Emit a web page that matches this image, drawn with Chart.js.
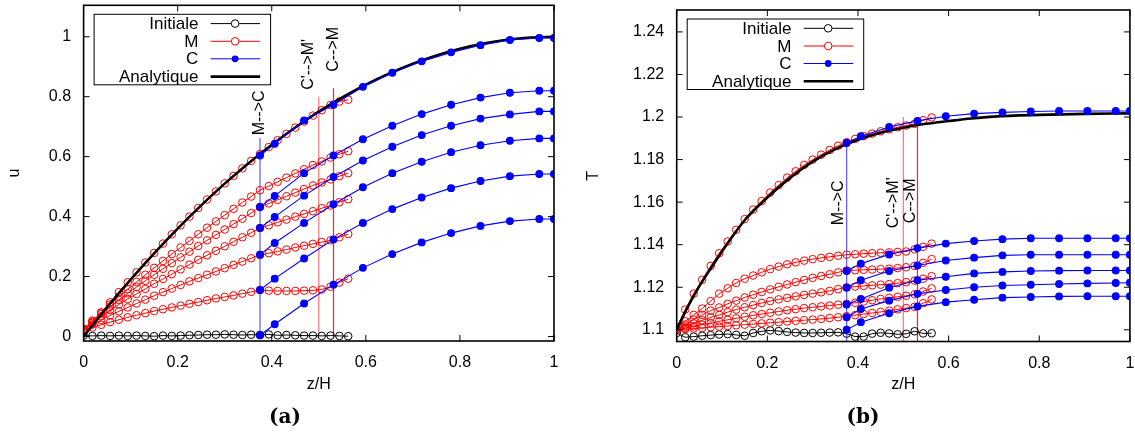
<!DOCTYPE html>
<html>
<head>
<meta charset="utf-8">
<script src="https://cdn.jsdelivr.net/npm/chart.js@4.4.0/dist/chart.umd.min.js"></script>
<style>
  body { margin: 0; background: #fff; }
  #wrap { position: relative; width: 1135px; height: 435px; }
  canvas { position: absolute; top: 0; }
  #cu { left: 0; }
  #ct { left: 567px; }
</style>
</head>
<body>
<div id="wrap">
  <canvas id="cu" width="567" height="435"></canvas>
  <canvas id="ct" width="568" height="435"></canvas>
</div>
<script>
// grids (z/H)
const zM = [0, 0.01875, 0.0375, 0.05625, 0.075, 0.09375, 0.1125, 0.13125, 0.15, 0.16875, 0.1875,
            0.20625, 0.225, 0.24375, 0.2625, 0.28125, 0.3, 0.31875, 0.3375, 0.35625, 0.375,
            0.39375, 0.4125, 0.43125, 0.45, 0.46875, 0.4875, 0.50625, 0.525, 0.54375, 0.5625];
const zC = [0.375, 0.40625, 0.46875, 0.53125, 0.59375, 0.65625, 0.71875, 0.78125, 0.84375, 0.90625, 0.96875, 1];
const zAnaU = [0, 0.05, 0.1, 0.15, 0.2, 0.25, 0.3, 0.35, 0.4, 0.45, 0.5, 0.55, 0.6, 0.65, 0.7, 0.75, 0.8, 0.85, 0.9, 0.95, 1];
const zAnaT = [0, 0.025, 0.05, 0.075, 0.1, 0.15, 0.2, 0.25, 0.3, 0.35, 0.4, 0.45, 0.5, 0.55, 0.6, 0.65, 0.7, 0.8, 0.9, 1];

// panel (a) : u
const uInit = [0.003, 0.002, 0.003, 0.002, 0.003, 0.002, 0.003, 0.002, 0.001, 0.003, 0.002, 0.003, 0.004, 0.005, 0.006, 0.006,
               0.007, 0.006, 0.005, 0.006, 0.005, 0.007, 0.004, 0.005, 0.004, 0.003, 0.003, 0.002, 0.003, 0.002, 0.001];
const uM1 = [0.02, 0.03, 0.039, 0.048, 0.056, 0.064, 0.071, 0.078, 0.085, 0.091, 0.097, 0.103, 0.109, 0.115, 0.121, 0.127,
             0.132, 0.137, 0.143, 0.149, 0.155, 0.153, 0.152, 0.152, 0.152, 0.153, 0.154, 0.157, 0.166, 0.18, 0.193];
const uM2 = [0.025, 0.04, 0.055, 0.07, 0.084, 0.097, 0.11, 0.123, 0.136, 0.148, 0.16, 0.172, 0.184, 0.195, 0.206, 0.217,
             0.228, 0.239, 0.25, 0.261, 0.272, 0.278, 0.284, 0.29, 0.297, 0.303, 0.309, 0.315, 0.321, 0.331, 0.342];
const uM3 = [0.025, 0.047, 0.068, 0.088, 0.107, 0.125, 0.142, 0.159, 0.176, 0.192, 0.208, 0.224, 0.24, 0.256, 0.271, 0.286,
             0.301, 0.316, 0.331, 0.346, 0.362, 0.371, 0.381, 0.39, 0.4, 0.409, 0.418, 0.428, 0.437, 0.448, 0.458];
const uM4 = [0.025, 0.05, 0.075, 0.099, 0.122, 0.144, 0.165, 0.186, 0.206, 0.226, 0.245, 0.264, 0.283, 0.302, 0.321, 0.339,
             0.357, 0.375, 0.393, 0.412, 0.432, 0.444, 0.456, 0.468, 0.48, 0.492, 0.504, 0.514, 0.524, 0.535, 0.545];
const uM5 = [0.025, 0.053, 0.08, 0.107, 0.133, 0.158, 0.182, 0.206, 0.229, 0.252, 0.275, 0.297, 0.319, 0.341, 0.363, 0.384,
             0.405, 0.426, 0.447, 0.467, 0.488, 0.502, 0.516, 0.53, 0.544, 0.558, 0.572, 0.584, 0.597, 0.608, 0.618];
const uM6 = [0.02, 0.045, 0.08, 0.114, 0.148, 0.181, 0.214, 0.247, 0.279, 0.31, 0.341, 0.371, 0.4, 0.429, 0.457, 0.484,
             0.511, 0.536, 0.561, 0.586, 0.609, 0.632, 0.655, 0.676, 0.697, 0.717, 0.737, 0.755, 0.772, 0.784, 0.79];
const uC1 = [0.004, 0.041, 0.11, 0.173, 0.229, 0.275, 0.314, 0.345, 0.369, 0.385, 0.392, 0.392];
const uC2 = [0.155, 0.193, 0.26, 0.324, 0.379, 0.425, 0.464, 0.495, 0.519, 0.535, 0.542, 0.542];
const uC3 = [0.273, 0.312, 0.379, 0.441, 0.498, 0.545, 0.583, 0.615, 0.638, 0.653, 0.661, 0.661];
const uC4 = [0.362, 0.399, 0.47, 0.532, 0.587, 0.633, 0.672, 0.703, 0.727, 0.741, 0.751, 0.751];
const uC5 = [0.432, 0.469, 0.545, 0.604, 0.658, 0.703, 0.742, 0.773, 0.797, 0.813, 0.82, 0.82];
const uC6 = [0.604, 0.643, 0.721, 0.773, 0.833, 0.88, 0.918, 0.948, 0.972, 0.989, 0.996, 0.996];
const uAna = [0, 0.0975, 0.19, 0.2775, 0.36, 0.4375, 0.51, 0.5775, 0.64, 0.6975, 0.75, 0.7975, 0.84, 0.8775, 0.91, 0.9375,
              0.96, 0.9775, 0.99, 0.9975, 1];

// panel (b) : T
const TInit = [1.0985, 1.0965, 1.0968, 1.0972, 1.0975, 1.0978, 1.098, 1.0976, 1.0972, 1.0985, 1.0993, 1.0997, 1.0994, 1.099,
               1.0987, 1.0985, 1.0985, 1.0986, 1.0987, 1.0988, 1.0982, 1.0968, 1.0968, 1.0982, 1.0986, 1.0983, 1.0979,
               1.0981, 1.0993, 1.0983, 1.0984];
const TM1 = [1.1, 1.1003, 1.1006, 1.1009, 1.1012, 1.1015, 1.1018, 1.1021, 1.1024, 1.1027, 1.103, 1.1033, 1.1036, 1.1039,
             1.1042, 1.1045, 1.1048, 1.1051, 1.1055, 1.1059, 1.1064, 1.1069, 1.1074, 1.1079, 1.1084, 1.109, 1.1096,
             1.1102, 1.1108, 1.1125, 1.1143];
const TM2 = [1.1, 1.1008, 1.1016, 1.1024, 1.1032, 1.104, 1.1047, 1.1054, 1.1061, 1.1068, 1.1074, 1.108, 1.1086, 1.1092,
             1.1097, 1.1102, 1.1106, 1.111, 1.1114, 1.1118, 1.1122, 1.1127, 1.1133, 1.1139, 1.1145, 1.115, 1.1155,
             1.116, 1.1167, 1.118, 1.1195];
const TM3 = [1.1, 1.1015, 1.103, 1.1045, 1.1058, 1.107, 1.1083, 1.1095, 1.1106, 1.1116, 1.1126, 1.1135, 1.1143, 1.115,
             1.1157, 1.1164, 1.117, 1.1176, 1.1183, 1.1191, 1.12, 1.1203, 1.1206, 1.1209, 1.1212, 1.1215, 1.1219,
             1.1224, 1.1231, 1.124, 1.1252];
const TM4 = [1.1, 1.1025, 1.1048, 1.107, 1.109, 1.1105, 1.1122, 1.1137, 1.1152, 1.1165, 1.1178, 1.119, 1.1202, 1.1213,
             1.1224, 1.1234, 1.1244, 1.1253, 1.1261, 1.127, 1.1279, 1.128, 1.1282, 1.1283, 1.1285, 1.1287, 1.129,
             1.1294, 1.13, 1.1315, 1.1332];
const TM5 = [1.101, 1.104, 1.107, 1.11, 1.1135, 1.117, 1.1195, 1.122, 1.124, 1.1255, 1.127, 1.1285, 1.1297, 1.1308,
             1.1317, 1.1325, 1.1332, 1.1338, 1.1343, 1.1348, 1.1353, 1.1355, 1.1358, 1.136, 1.1362, 1.1364, 1.1366,
             1.1368, 1.1378, 1.139, 1.1405];
const TM6 = [1.101, 1.1095, 1.117, 1.1235, 1.13, 1.136, 1.1415, 1.147, 1.152, 1.1565, 1.1605, 1.1645, 1.168, 1.1715,
             1.1745, 1.1775, 1.18, 1.1823, 1.1845, 1.1865, 1.1882, 1.1897, 1.191, 1.1922, 1.1933, 1.1943, 1.1952,
             1.196, 1.1968, 1.1985, 1.1998];
const TC1 = [1.1, 1.1036, 1.1078, 1.111, 1.113, 1.1141, 1.1151, 1.1154, 1.1157, 1.1158, 1.1158, 1.1158];
const TC2 = [1.1059, 1.1098, 1.1137, 1.1169, 1.1187, 1.12, 1.1208, 1.1212, 1.1215, 1.1218, 1.122, 1.1221];
const TC3 = [1.1119, 1.1145, 1.1198, 1.1233, 1.1249, 1.1265, 1.1272, 1.1276, 1.1278, 1.1279, 1.1279, 1.1279];
const TC4 = [1.1198, 1.1233, 1.1276, 1.1302, 1.1326, 1.1339, 1.135, 1.1353, 1.1353, 1.1353, 1.1353, 1.1353];
const TC5 = [1.1276, 1.1311, 1.1354, 1.1384, 1.1405, 1.1417, 1.1426, 1.143, 1.143, 1.143, 1.143, 1.143];
const TC6 = [1.1878, 1.191, 1.1953, 1.1982, 1.2004, 1.2016, 1.2022, 1.2026, 1.2028, 1.2028, 1.2028, 1.2028];
const TAna = [1.1, 1.111, 1.1205, 1.1288, 1.1368, 1.1515, 1.1622, 1.1714, 1.179, 1.1849, 1.1893, 1.1926, 1.195, 1.1968,
              1.1981, 1.1993, 1.2002, 1.201, 1.2015, 1.2017];

// coupling lines
const vLineZ = [0.375, 0.5, 0.53125];
const vLabels = ['M-->C', "C'-->M'", 'C-->M'];
const vTopU = [0.662, 0.8, 0.828];
const vTopT = [1.1875, 1.2, 1.1966];
const vLabelZU = [0.375, 0.478, 0.531];
const vLabelYU = [0.746, 0.908, 0.958];
const vLabelZT = [0.358, 0.478, 0.517];
const vLabelYT = [1.1597, 1.1597, 1.1606];

// axes
const xTicks = [0, 0.2, 0.4, 0.6, 0.8, 1];
const xTickLabels = ['0', '0.2', '0.4', '0.6', '0.8', '1'];
const uTicks = [0, 0.2, 0.4, 0.6, 0.8, 1];
const uTickLabels = ['0', '0.2', '0.4', '0.6', '0.8', '1'];
const TTicks = [1.1, 1.12, 1.14, 1.16, 1.18, 1.2, 1.22, 1.24];
const TTickLabels = ['1.1', '1.12', '1.14', '1.16', '1.18', '1.2', '1.22', '1.24'];

const legendNames = ['Initiale', 'M', 'C', 'Analytique'];

const FONT = '"Liberation Sans", Arial, sans-serif';
const RED = '#ff0000', BLUE = '#0000ff';
const vColors = ['rgb(90,90,255)', 'rgb(245,120,120)', 'rgb(255,30,30)'];

const pts = (xs, ys) => xs.map((x, i) => ({ x: x, y: ys[i] }));

function buildSets(init, mList, cList, zAna, ana, vTop, vBottom) {
    const sets = [];
    vLineZ.forEach((z, i) => {
        sets.push({ data: [{ x: z, y: vBottom }, { x: z, y: vTop[i] }], borderColor: vColors[i],
                    backgroundColor: vColors[i], borderWidth: 1.2, pointRadius: 0, showLine: true, order: 50 });
    });
    sets.push({ data: pts(zM, init), borderColor: '#000', backgroundColor: 'rgba(0,0,0,0)',
                borderWidth: 1, pointRadius: 3.8, pointBorderWidth: 1, showLine: true, order: 40 });
    mList.forEach(m => sets.push({ data: pts(zM, m), borderColor: RED, backgroundColor: 'rgba(0,0,0,0)',
                borderWidth: 1, pointRadius: 3.8, pointBorderWidth: 1, showLine: true, order: 30 }));
    sets.push({ data: pts(zAna, ana), borderColor: '#000', borderWidth: 2.6, pointRadius: 0,
                showLine: true, cubicInterpolationMode: 'monotone', order: 20 });
    cList.forEach(c => sets.push({ data: pts(zC, c), borderColor: BLUE, backgroundColor: BLUE,
                borderWidth: 1.1, pointRadius: 3.4, showLine: true, order: 10 }));
    return sets;
}

const decor = {
    id: 'decor',
    afterDraw(chart, args, o) {
        const ctx = chart.ctx, a = chart.chartArea;
        const xs = chart.scales.x, ys = chart.scales.y;
        ctx.save();

        // rotated labels of the coupling lines
        ctx.fillStyle = '#000';
        ctx.font = '16px ' + FONT;
        ctx.textAlign = 'center';
        ctx.textBaseline = 'middle';
        vLabels.forEach((t, i) => {
            ctx.save();
            ctx.translate(xs.getPixelForValue(o.labelZ[i]), ys.getPixelForValue(o.labelY[i]));
            ctx.rotate(-Math.PI / 2);
            ctx.fillText(t, 0, 0);
            ctx.restore();
        });

        // frame + inward mirrored ticks
        ctx.strokeStyle = '#000';
        ctx.lineWidth = 1.6;
        ctx.strokeRect(a.left, a.top, a.right - a.left, a.bottom - a.top);
        ctx.lineWidth = 1;
        ctx.beginPath();
        xs.ticks.forEach(t => {
            const p = xs.getPixelForValue(t.value);
            ctx.moveTo(p, a.bottom); ctx.lineTo(p, a.bottom - 6);
            ctx.moveTo(p, a.top); ctx.lineTo(p, a.top + 6);
        });
        ys.ticks.forEach(t => {
            const p = ys.getPixelForValue(t.value);
            ctx.moveTo(a.left, p); ctx.lineTo(a.left + 6, p);
            ctx.moveTo(a.right, p); ctx.lineTo(a.right - 6, p);
        });
        ctx.stroke();

        // key
        const bx = a.left + 10.5, by = a.top + 9;
        ctx.lineWidth = 1;
        ctx.strokeRect(bx, by, 176.5, 70.5);
        const rows = [9.3, 27, 44.5, 62.3];
        ctx.font = '17px ' + FONT;
        ctx.textAlign = 'right';
        legendNames.forEach((name, i) => {
            const y = by + rows[i];
            ctx.fillStyle = '#000';
            ctx.fillText(name, bx + 104.3, y + 1);
            const col = i === 1 ? RED : i === 2 ? BLUE : '#000';
            ctx.strokeStyle = col;
            ctx.lineWidth = i === 3 ? 2.6 : 1;
            ctx.beginPath();
            ctx.moveTo(bx + 116.5, y); ctx.lineTo(bx + 166, y);
            ctx.stroke();
            if (i < 3) {
                ctx.beginPath();
                ctx.arc(bx + 141, y, i === 2 ? 3.4 : 3.8, 0, Math.PI * 2);
                ctx.lineWidth = 1;
                if (i === 2) { ctx.fillStyle = BLUE; ctx.fill(); }
                else { ctx.fillStyle = '#fff'; ctx.fill(); ctx.stroke(); }
            }
        });

        // axis titles and caption
        ctx.fillStyle = '#000';
        ctx.textAlign = 'center';
        ctx.font = '16px ' + FONT;
        ctx.fillText('z/H', (a.left + a.right) / 2, 385);
        ctx.save();
        ctx.translate(o.yTitleX, (a.top + a.bottom) / 2);
        ctx.rotate(-Math.PI / 2);
        ctx.fillText(o.yTitle, 0, 0);
        ctx.restore();
        ctx.font = 'bold 20px "DejaVu Serif", "Liberation Serif", serif';
        ctx.fillText(o.caption, o.captionX, 418);

        ctx.restore();
    }
};

function makeChart(id, sets, p) {
    return new Chart(document.getElementById(id), {
        type: 'scatter',
        data: { datasets: sets },
        plugins: [decor],
        options: {
            responsive: false,
            animation: false,
            devicePixelRatio: 1,
            layout: { padding: { left: 0, right: p.padRight, top: p.padTop, bottom: 0 } },
            plugins: {
                legend: { display: false },
                tooltip: { enabled: false },
                decor: p.decor
            },
            scales: {
                x: {
                    type: 'linear', min: 0, max: 1,
                    grid: { display: false, drawTicks: false }, border: { display: false },
                    afterBuildTicks: s => { s.ticks = xTicks.map(v => ({ value: v })); },
                    afterFit: s => { s.height = p.xHeight; s.paddingLeft = 0; s.paddingRight = 0; },
                    ticks: { autoSkip: false, maxRotation: 0, padding: 12, color: '#000',
                             font: { family: FONT, size: 16 }, callback: (v, i) => xTickLabels[i] }
                },
                y: {
                    type: 'linear', min: p.yMin, max: p.yMax,
                    grid: { display: false, drawTicks: false }, border: { display: false },
                    afterBuildTicks: s => { s.ticks = p.yTicks.map(v => ({ value: v })); },
                    afterFit: s => { s.width = p.yWidth; s.paddingTop = 0; s.paddingBottom = 0; },
                    ticks: { autoSkip: false, padding: 12.5, color: '#000',
                             font: { family: FONT, size: 16 }, callback: (v, i) => p.yLabels[i] }
                }
            }
        }
    });
}

makeChart('cu', buildSets(uInit, [uM1, uM2, uM3, uM4, uM5, uM6], [uC1, uC2, uC3, uC4, uC5, uC6], zAnaU, uAna, vTopU, 0), {
    padRight: 13, padTop: 5.3, xHeight: 94, yWidth: 83.6,
    yMin: -0.015, yMax: 1.105, yTicks: uTicks, yLabels: uTickLabels,
    decor: { labelZ: vLabelZU, labelY: vLabelYU, yTitle: 'u', yTitleX: 14.5, caption: '(a)', captionX: 285 }
});

makeChart('ct', buildSets(TInit, [TM1, TM2, TM3, TM4, TM5, TM6], [TC1, TC2, TC3, TC4, TC5, TC6], zAnaT, TAna, vTopT, 1.0945), {
    padRight: 2, padTop: 10, xHeight: 93.5, yWidth: 109.7,
    yMin: 1.0945, yMax: 1.2503, yTicks: TTicks, yLabels: TTickLabels,
    decor: { labelZ: vLabelZT, labelY: vLabelYT, yTitle: 'T', yTitleX: 27, caption: '(b)', captionX: 296 }
});
</script>
</body>
</html>
